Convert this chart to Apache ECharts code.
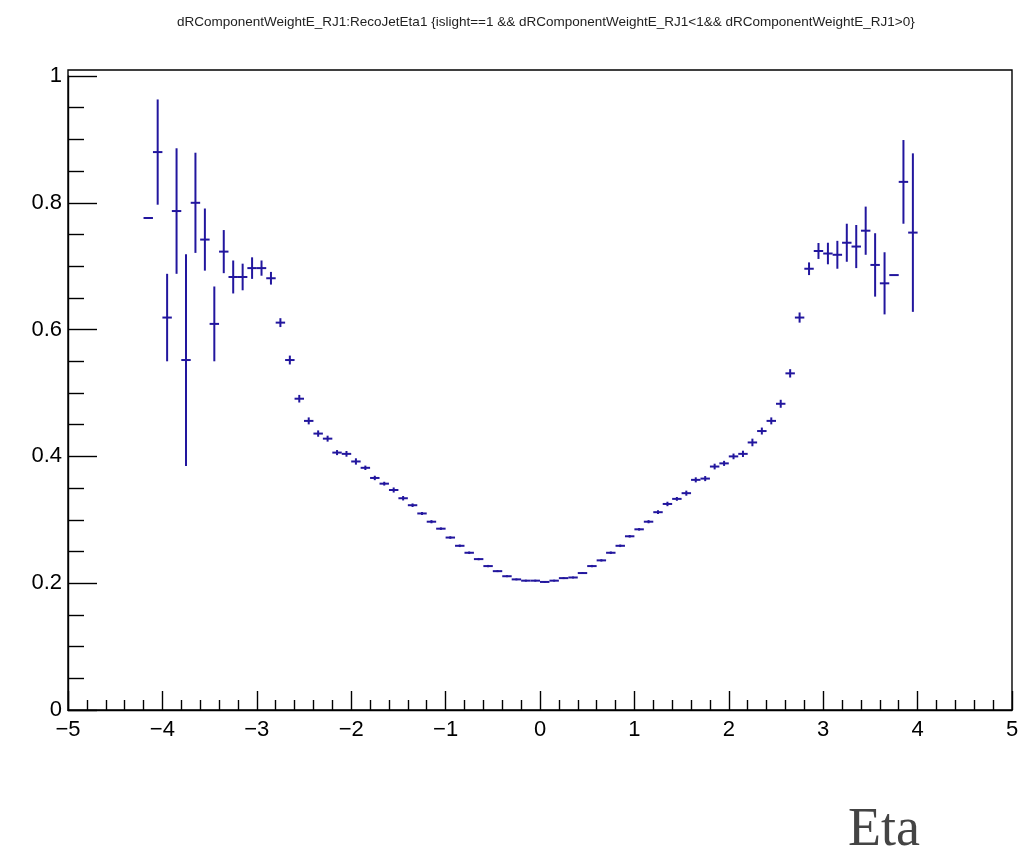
<!DOCTYPE html>
<html>
<head>
<meta charset="utf-8">
<script src="https://cdn.jsdelivr.net/npm/echarts@6/dist/echarts.min.js"></script>
<style>
  html, body { margin: 0; padding: 0; background: #fff; }
  #chart { width: 1036px; height: 855px; }
</style>
</head>
<body>
<div id="chart"></div>
<script>
// Profile of dRComponentWeightE_RJ1 versus RecoJetEta1 (bin width 0.1)
const etaCenters = [
  -4.15, -4.05, -3.95, -3.85, -3.75, -3.65, -3.55, -3.45, -3.35, -3.25,
  -3.15, -3.05, -2.95, -2.85, -2.75, -2.65, -2.55, -2.45, -2.35, -2.25,
  -2.15, -2.05, -1.95, -1.85, -1.75, -1.65, -1.55, -1.45, -1.35, -1.25,
  -1.15, -1.05, -0.95, -0.85, -0.75, -0.65, -0.55, -0.45, -0.35, -0.25,
  -0.15, -0.05, 0.05, 0.15, 0.25, 0.35, 0.45, 0.55, 0.65, 0.75,
  0.85, 0.95, 1.05, 1.15, 1.25, 1.35, 1.45, 1.55, 1.65, 1.75,
  1.85, 1.95, 2.05, 2.15, 2.25, 2.35, 2.45, 2.55, 2.65, 2.75,
  2.85, 2.95, 3.05, 3.15, 3.25, 3.35, 3.45, 3.55, 3.65, 3.75,
  3.85, 3.95
];
const profileMean = [
  0.776, 0.880, 0.619, 0.787, 0.552, 0.800, 0.742, 0.609, 0.723, 0.683,
  0.683, 0.697, 0.697, 0.681, 0.611, 0.552, 0.491, 0.456, 0.436, 0.428,
  0.406, 0.404, 0.392, 0.382, 0.366, 0.357, 0.347, 0.334, 0.323, 0.310,
  0.297, 0.286, 0.272, 0.259, 0.248, 0.238, 0.227, 0.219, 0.211, 0.206,
  0.204, 0.204, 0.202, 0.204, 0.208, 0.209, 0.216, 0.227, 0.236, 0.248,
  0.259, 0.274, 0.285, 0.297, 0.312, 0.325, 0.333, 0.342, 0.363, 0.365,
  0.384, 0.389, 0.400, 0.404, 0.422, 0.440, 0.456, 0.483, 0.531, 0.619,
  0.696, 0.724, 0.720, 0.718, 0.737, 0.731, 0.756, 0.702, 0.673, 0.686,
  0.833, 0.753
];
const profileErr = [
  0.000, 0.083, 0.069, 0.099, 0.167, 0.079, 0.049, 0.059, 0.034, 0.026,
  0.021, 0.017, 0.012, 0.010, 0.007, 0.007, 0.006, 0.0055, 0.005, 0.0047,
  0.004, 0.0045, 0.005, 0.0035, 0.0035, 0.003, 0.004, 0.0035, 0.0028, 0.0025,
  0.0025, 0.002, 0.002, 0.002, 0.002, 0.0018, 0.0018, 0.0015, 0.0015, 0.0015,
  0.0015, 0.0015, 0.0015, 0.0015, 0.0015, 0.0015, 0.0015, 0.0018, 0.0018, 0.002,
  0.002, 0.002, 0.002, 0.0025, 0.003, 0.0035, 0.003, 0.004, 0.004, 0.004,
  0.0045, 0.004, 0.0045, 0.005, 0.006, 0.0055, 0.0055, 0.0063, 0.0066, 0.008,
  0.010, 0.0126, 0.017, 0.022, 0.030, 0.034, 0.038, 0.050, 0.049, 0.000,
  0.066, 0.125
];
const binWidth = 0.1;

const xTickLabels = ['−5', '−4', '−3', '−2', '−1', '0', '1', '2', '3', '4', '5'];
const yTickLabels = ['0', '0.2', '0.4', '0.6', '0.8', '1'];

const titleText = 'dRComponentWeightE_RJ1:RecoJetEta1 {islight==1 && dRComponentWeightE_RJ1<1&& dRComponentWeightE_RJ1>0}';

// frame of the pad
const frame = { left: 68, right: 1012, top: 70, bottom: 710 };
const markColor = '#22169e';
const axisWidth = 1.4;

const points = etaCenters.map((x, i) => [x, profileMean[i], profileErr[i]]);

const chart = echarts.init(document.getElementById('chart'), null, { renderer: 'canvas' });

chart.setOption({
  backgroundColor: '#ffffff',
  animation: false,
  title: {
    text: titleText,
    left: 172,
    top: 10,
    textStyle: { fontFamily: 'Liberation Sans', fontSize: 13.5, fontWeight: 'normal', color: '#222' }
  },
  grid: {
    left: frame.left,
    right: 1036 - frame.right,
    top: 76,
    bottom: 855 - frame.bottom,
    containLabel: false
  },
  xAxis: {
    type: 'value',
    min: -5,
    max: 5,
    interval: 1,
    axisLine: { show: true, onZero: false, lineStyle: { color: '#000', width: axisWidth } },
    axisTick: { show: true, inside: true, length: 19, lineStyle: { color: '#000', width: axisWidth } },
    minorTick: { show: true, splitNumber: 5, length: 10, lineStyle: { color: '#000', width: axisWidth } },
    splitLine: { show: false },
    axisLabel: {
      margin: 9,
      fontFamily: 'Liberation Sans',
      fontSize: 22,
      color: '#000',
      formatter: v => xTickLabels[Math.round(v) + 5]
    }
  },
  yAxis: {
    type: 'value',
    min: 0,
    max: 1,
    interval: 0.2,
    axisLine: { show: true, onZero: false, lineStyle: { color: '#000', width: axisWidth } },
    axisTick: { show: true, inside: true, length: 29, lineStyle: { color: '#000', width: axisWidth } },
    minorTick: { show: true, splitNumber: 4, length: 16, lineStyle: { color: '#000', width: axisWidth } },
    splitLine: { show: false },
    axisLabel: {
      margin: 6,
      fontFamily: 'Liberation Sans',
      fontSize: 22,
      color: '#000',
      formatter: v => yTickLabels[Math.round(v * 5)]
    }
  },
  graphic: [
    {
      type: 'rect',
      silent: true,
      z: 10,
      shape: {
        x: frame.left,
        y: frame.top,
        width: frame.right - frame.left,
        height: frame.bottom - frame.top
      },
      style: { fill: 'none', stroke: '#000', lineWidth: axisWidth }
    },
    {
      type: 'text',
      left: 848,
      top: 804,
      style: {
        text: 'Eta',
        font: '54px "Liberation Serif"',
        fill: '#444'
      }
    }
  ],
  series: [
    {
      type: 'custom',
      name: 'profile',
      data: points,
      clip: false,
      renderItem: function (params, api) {
        const x = api.value(0);
        const y = api.value(1);
        const e = api.value(2);
        const l = api.coord([x - binWidth / 2, y]);
        const r = api.coord([x + binWidth / 2, y]);
        const children = [{
          type: 'line',
          shape: { x1: l[0], y1: l[1], x2: r[0], y2: r[1] },
          style: { stroke: markColor, lineWidth: 2 }
        }];
        if (e > 0) {
          const lo = api.coord([x, y - e]);
          const hi = api.coord([x, y + e]);
          children.push({
            type: 'line',
            shape: { x1: lo[0], y1: lo[1], x2: hi[0], y2: hi[1] },
            style: { stroke: markColor, lineWidth: 2 }
          });
        }
        return { type: 'group', children: children };
      }
    }
  ]
});
</script>
</body>
</html>
